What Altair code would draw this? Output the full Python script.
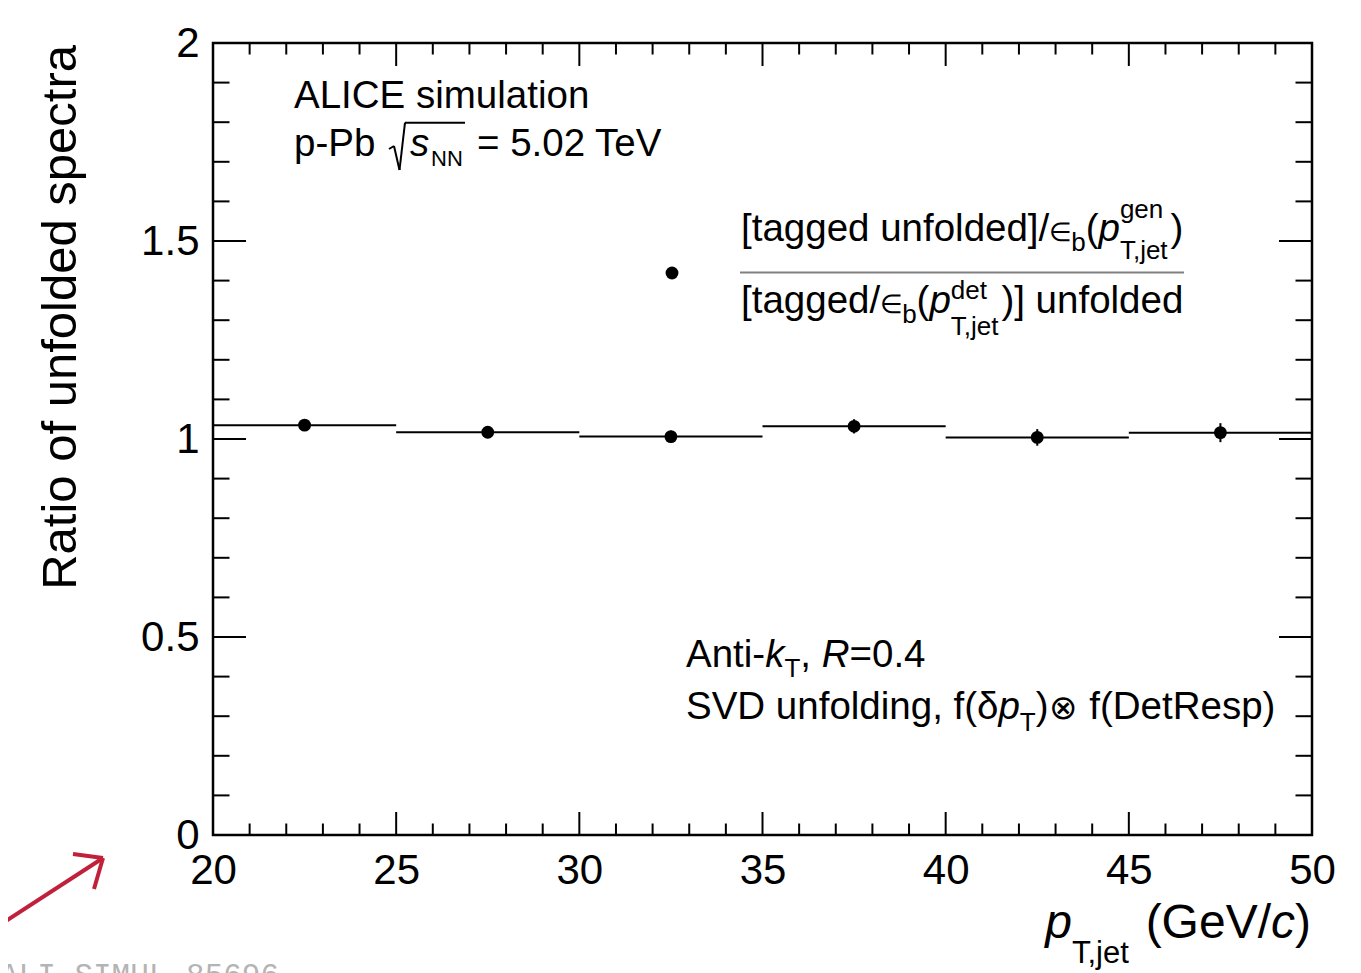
import altair as alt
import pandas as pd

# ---------------- data ----------------
bin_lo = [20, 25, 30, 35, 40, 45]
bin_hi = [25, 30, 35, 40, 45, 50]
bin_center = [22.5, 27.5, 32.5, 37.5, 42.5, 47.5]
ratio = [1.035, 1.017, 1.006, 1.032, 1.004, 1.016]
ratio_err = [0.012, 0.013, 0.015, 0.018, 0.021, 0.024]

x_major = [20, 25, 30, 35, 40, 45, 50]
x_minor = [v for v in range(21, 50) if v % 5]
y_major = [0, 0.5, 1, 1.5, 2]
y_minor = [round(0.1 * i, 1) for i in range(1, 20) if i % 5]

# ---------------- layout ----------------
OX, OY = 213, 43          # page position of plot origin
W, H = 1099, 792
FONT = "Liberation Sans"
F = 38.5                   # annotation font size
S = 26                     # sub/superscript size

xs = alt.Scale(domain=[20, 50], nice=False, zero=False)
ys = alt.Scale(domain=[0, 2], nice=False, zero=False)
ax_x = alt.Axis(values=x_major, ticks=False, domain=False, grid=False, title=None,
                labelFontSize=42, labelFont=FONT, labelColor="black", labelPadding=15,
                labelFlush=False, labelOverlap=False, labelBound=False, format="~g")
ax_y = alt.Axis(values=y_major, ticks=False, domain=False, grid=False, title=None,
                labelFontSize=42, labelFont=FONT, labelColor="black", labelPadding=14,
                labelOverlap=False, labelBound=False, format="~g")

df = pd.DataFrame({
    "lo": bin_lo, "hi": bin_hi, "pt": bin_center, "ratio": ratio,
    "elo": [r - e for r, e in zip(ratio, ratio_err)],
    "ehi": [r + e for r, e in zip(ratio, ratio_err)],
})

layers = []
base = alt.Chart(df)
layers.append(base.mark_rule(color="black", strokeWidth=2).encode(
    x=alt.X("lo:Q", scale=xs, axis=ax_x), x2="hi:Q",
    y=alt.Y("ratio:Q", scale=ys, axis=ax_y)))
layers.append(base.mark_rule(color="black", strokeWidth=2).encode(
    x=alt.X("pt:Q", scale=xs, axis=ax_x),
    y=alt.Y("elo:Q", scale=ys, axis=ax_y), y2="ehi:Q"))
layers.append(base.mark_circle(color="black", opacity=1, size=165).encode(
    x=alt.X("pt:Q", scale=xs, axis=ax_x),
    y=alt.Y("ratio:Q", scale=ys, axis=ax_y)))

# ---------------- inside ticks on all four sides ----------------
def xticks(vals, L):
    d = alt.Chart(pd.DataFrame({"v": vals}))
    enc = dict(x=alt.X("v:Q", scale=xs, axis=ax_x))
    return [
        d.mark_rule(color="black", strokeWidth=2).encode(y=alt.value(H), y2=alt.value(H - L), **enc),
        d.mark_rule(color="black", strokeWidth=2).encode(y=alt.value(0), y2=alt.value(L), **enc),
    ]

def yticks(vals, L):
    d = alt.Chart(pd.DataFrame({"v": vals}))
    enc = dict(y=alt.Y("v:Q", scale=ys, axis=ax_y))
    return [
        d.mark_rule(color="black", strokeWidth=2).encode(x=alt.value(0), x2=alt.value(L), **enc),
        d.mark_rule(color="black", strokeWidth=2).encode(x=alt.value(W), x2=alt.value(W - L), **enc),
    ]

layers += xticks(x_major, 23) + xticks(x_minor, 11.5)
layers += yticks(y_major, 33) + yticks(y_minor, 16.5)

# ---------------- annotation helpers ----------------
AW = {" ": 278, "(": 333, ")": 333, ",": 278, "-": 333, ".": 278, "/": 278, "=": 584,
      "[": 278, "]": 278, "A": 667, "C": 722, "D": 722, "E": 667, "G": 778, "I": 278,
      "L": 556, "N": 722, "P": 667, "R": 722, "S": 667, "T": 611, "V": 667,
      "a": 556, "b": 556, "c": 500, "d": 556, "e": 556, "f": 278, "g": 556, "i": 222,
      "j": 222, "k": 500, "l": 222, "m": 833, "n": 556, "o": 556, "p": 556, "r": 333,
      "s": 500, "t": 278, "u": 556, "v": 500, "δ": 556}

def tw(s, size):
    return sum(AW.get(c, 556) for c in s) / 1000 * size

one = pd.DataFrame({"a": [0]})

def txt(t, x, y, size, italic=False, align="left", angle=0, font=FONT, color="black"):
    kw = dict(text=t, font=font, fontSize=size, align=align, baseline="alphabetic",
              color=color, angle=angle)
    if italic:
        kw["fontStyle"] = "italic"
    return alt.Chart(one).mark_text(**kw).encode(x=alt.value(x - OX), y=alt.value(y - OY))

def seq(x, y, parts):
    out = []
    for p in parts:
        t, size, it, dy = p[:4]
        adv = p[4] if len(p) > 4 else None
        s = t.lstrip(" ")
        x += tw(t[:len(t) - len(s)], size)      # leading blanks are not drawn by SVG
        out.append(txt(s, x, y + dy, size, it))
        x += tw(s, size) if adv is None else adv
    return out

def seg(x1, y1, x2, y2, color="black", w=2):
    return alt.Chart(one).mark_rule(color=color, strokeWidth=w).encode(
        x=alt.value(x1 - OX), y=alt.value(y1 - OY), x2=alt.value(x2 - OX), y2=alt.value(y2 - OY))

# ALICE label
layers.append(txt("ALICE simulation", 294, 108, F))
layers.append(txt("p-Pb", 294, 156, F))
layers += [seg(389, 149, 394, 146), seg(394, 146, 399.5, 170),
           seg(399.5, 170, 405, 122.7), seg(405, 122.7, 465, 122.7)]
layers.append(txt("s", 410, 156, F, italic=True))
layers.append(txt("NN", 431, 166, 22))
layers.append(txt("= 5.02 TeV", 477, 156, F))

# legend
layers.append(alt.Chart(one).mark_circle(color="black", opacity=1, size=165).encode(
    x=alt.value(672 - OX), y=alt.value(273 - OY)))
layers.append(seg(740, 272.5, 1184, 272.5, color="#808080", w=2))
layers += seq(741, 241, [("[tagged unfolded]/", F, False, 0), ("∈", 26, False, 0, 22),
                         ("b", S, False, 10), ("(", F, False, 0), ("p", F, True, 0),
                         ("gen", S, False, -23, 0), ("T,jet", S, False, 18), (")", F, False, 0)])
layers += seq(741, 313, [("[tagged/", F, False, 0), ("∈", 26, False, 0, 22),
                         ("b", S, False, 10), ("(", F, False, 0), ("p", F, True, 0),
                         ("det", S, False, -14, 0), ("T,jet", S, False, 22), (")", F, False, 0),
                         ("] unfolded", F, False, 0)])

# jet / unfolding info
layers += seq(686, 667, [("Anti-", F, False, 0), ("k", F, True, 0), ("T", S, False, 10),
                         (", ", F, False, 0), ("R", F, True, 0), ("=0.4", F, False, 0)])
layers += seq(686, 719, [("SVD unfolding, f(", F, False, 0), ("δ", F, False, 0),
                         ("p", F, True, 0), ("T", S, False, 12), (")", F, False, 0),
                         ("⊗", 34, False, 0, 30), (" f(DetResp)", F, False, 0)])

# axis titles
TF, TS = 48, 31
xparts = [("p", TF, True, 0), ("T,jet", TS, False, 25), (" (GeV/", TF, False, 0),
          ("c", TF, True, 0), (")", TF, False, 0)]
xtot = sum(tw(p[0], p[1]) for p in xparts)
layers += seq(1311 - xtot, 938, xparts)
layers.append(txt("Ratio of unfolded spectra", 76, 45, 49, align="right", angle=270))

# watermark + arrow
layers.append(txt("ALI-SIMUL-85696", 0, 985, 31, font="Liberation Mono", color="#b4b4b4"))
RED = "#c1203b"
layers += [seg(-5, 928, 103, 858, RED, 4), seg(103, 858, 73, 854, RED, 4),
           seg(103, 858, 94, 889, RED, 4)]

chart = alt.layer(*layers).properties(
    width=W, height=H,
    padding={"left": OX - 8, "top": OY - 8, "right": 25, "bottom": 973 - OY - H},
    autosize=alt.AutoSizeParams(type="none"),
    background="white",
).configure_view(stroke="black", strokeWidth=2.5)

chart.save("out.html", embed_options={"renderer": "svg", "actions": False})
